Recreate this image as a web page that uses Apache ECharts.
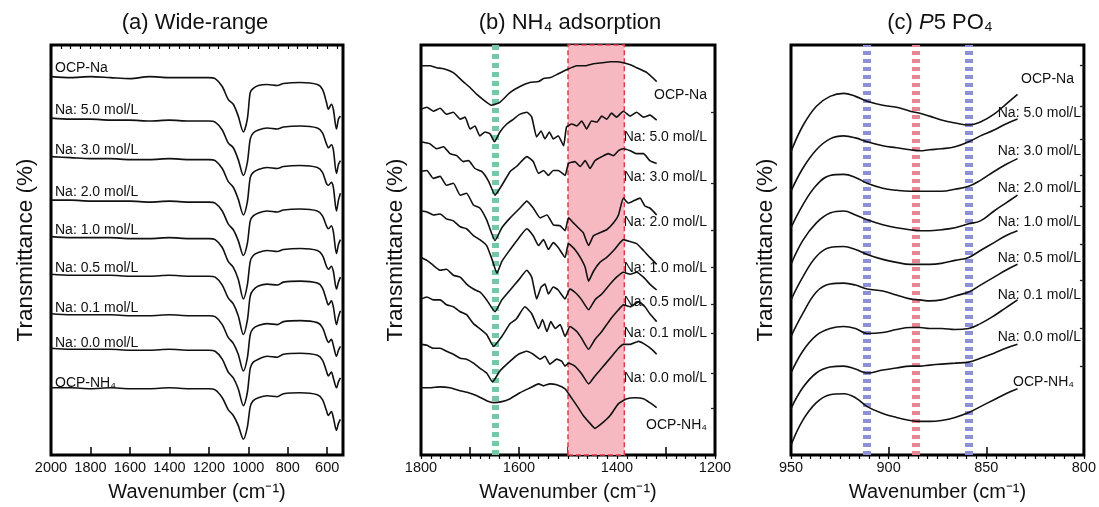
<!DOCTYPE html>
<html>
<head>
<meta charset="utf-8">
<script src="https://cdn.jsdelivr.net/npm/echarts@6/dist/echarts.min.js"></script>
<style>
  html, body { margin: 0; padding: 0; background: #fff; }
  #chart { width: 1099px; height: 507px; }
</style>
</head>
<body>
<div id="chart"></div>
<script>
// sample names, top to bottom
const sampleNames = ["OCP-Na", "Na: 5.0 mol/L", "Na: 3.0 mol/L", "Na: 2.0 mol/L", "Na: 1.0 mol/L",
  "Na: 0.5 mol/L", "Na: 0.1 mol/L", "Na: 0.0 mol/L", "OCP-NH₄"];

// (a) wide range, offset transmittance
const wnA = [2000, 1900, 1800, 1700, 1600, 1500, 1400, 1300, 1200, 1168, 1132, 1102, 1076, 1051, 1025, 1005,
  990, 975, 949, 904, 853, 822, 736, 650, 624, 604, 594, 579, 569, 553, 543, 533];
const aOcpNa = [383, 382, 383, 382, 381, 383, 382, 382, 382, 381, 373, 360, 355, 343, 327, 340, 367, 371, 374, 375, 374, 376, 377, 375, 370, 357, 350, 355, 350, 330, 340, 343];
const a50 = [341, 340, 340, 339, 339, 338, 339, 338, 338, 337, 329, 316, 311, 299, 283, 296, 320, 326, 329, 331, 330, 332, 333, 331, 326, 315, 311, 314, 309, 285, 294, 298];
const a30 = [302, 301, 300, 300, 299, 299, 300, 299, 299, 298, 290, 277, 271, 259, 243, 256, 281, 286, 289, 291, 290, 292, 293, 291, 286, 275, 273, 276, 271, 247, 258, 265];
const a20 = [258, 258, 257, 257, 257, 256, 257, 256, 256, 255, 247, 234, 228, 217, 202, 214, 237, 242, 245, 247, 246, 248, 249, 247, 242, 232, 229, 232, 226, 204, 213, 218];
const a10 = [221, 220, 220, 220, 219, 219, 220, 219, 219, 218, 210, 196, 190, 178, 158, 172, 196, 202, 205, 207, 206, 208, 209, 207, 202, 191, 188, 191, 186, 168, 175, 180];
const a05 = [183, 182, 182, 182, 181, 181, 182, 181, 181, 180, 172, 159, 153, 141, 122, 136, 161, 167, 171, 173, 172, 175, 176, 174, 169, 157, 152, 156, 150, 132, 140, 146];
const a01 = [143, 142, 142, 142, 141, 141, 142, 141, 141, 140, 132, 119, 113, 102, 85, 98, 122, 128, 131, 133, 132, 135, 136, 134, 129, 118, 114, 117, 111, 100, 106, 110];
const a00 = [108, 107, 107, 107, 106, 106, 107, 106, 106, 105, 97, 84, 78, 67, 50, 63, 88, 94, 97, 100, 99, 102, 103, 101, 96, 85, 80, 84, 78, 68, 74, 78];
const aNH4 = [68, 68, 67, 68, 67, 67, 68, 67, 67, 66, 58, 46, 40, 30, 16, 28, 49, 55, 58, 60, 59, 62, 63, 61, 56, 45, 40, 44, 38, 25, 32, 36];

// (b) NH4 region, [wavenumber, value]
const bOcpNa = [[1800, 394], [1782, 394], [1768, 392], [1754, 391], [1734, 387], [1714, 378], [1700, 372], [1686, 365], [1666, 357], [1656, 354], [1639, 357], [1618, 367], [1598, 373], [1578, 377], [1560, 378], [1550, 381], [1536, 382], [1523, 385], [1503, 390], [1482, 394], [1465, 394], [1448, 396], [1430, 397], [1414, 398], [1400, 398], [1387, 397], [1373, 395], [1360, 392], [1339, 387], [1319, 378]];
const b50 = [[1800, 350], [1788, 352], [1775, 348], [1761, 351], [1748, 345], [1734, 347], [1720, 340], [1710, 342], [1700, 330], [1690, 333], [1680, 323], [1669, 327], [1659, 325], [1650, 317], [1639, 327], [1625, 335], [1611, 340], [1598, 345], [1584, 347], [1574, 342], [1564, 322], [1555, 328], [1547, 320], [1538, 327], [1530, 320], [1520, 323], [1509, 313], [1503, 332], [1492, 335], [1482, 333], [1472, 338], [1462, 330], [1452, 338], [1441, 337], [1431, 343], [1421, 340], [1411, 346], [1401, 342], [1387, 348], [1373, 343], [1360, 347], [1346, 342], [1333, 344], [1319, 339]];
const b30 = [[1800, 317], [1782, 315], [1768, 310], [1754, 312], [1741, 305], [1727, 303], [1714, 297], [1703, 298], [1690, 290], [1676, 287], [1662, 277], [1649, 263], [1635, 273], [1618, 287], [1605, 292], [1584, 302], [1571, 297], [1560, 285], [1550, 288], [1540, 283], [1530, 288], [1520, 288], [1506, 283], [1499, 295], [1486, 297], [1475, 292], [1465, 298], [1455, 290], [1445, 298], [1431, 302], [1418, 305], [1407, 303], [1397, 308], [1387, 310], [1373, 308], [1360, 305], [1346, 305], [1333, 298], [1319, 295]];
const b20 = [[1800, 287], [1788, 288], [1775, 280], [1761, 282], [1748, 273], [1734, 275], [1720, 263], [1707, 265], [1693, 253], [1680, 250], [1666, 238], [1649, 217], [1635, 230], [1618, 240], [1598, 250], [1584, 257], [1571, 250], [1557, 240], [1543, 243], [1530, 233], [1516, 232], [1506, 227], [1499, 240], [1489, 235], [1479, 230], [1469, 225], [1458, 212], [1448, 222], [1435, 225], [1421, 228], [1407, 235], [1397, 243], [1387, 260], [1377, 255], [1367, 257], [1353, 260], [1343, 252], [1333, 250], [1319, 243]];
const b10 = [[1800, 247], [1788, 246], [1775, 243], [1761, 244], [1748, 239], [1734, 237], [1720, 231], [1707, 229], [1693, 222], [1680, 218], [1666, 212], [1655, 198], [1645, 184], [1635, 196], [1618, 208], [1600, 220], [1584, 229], [1571, 222], [1560, 212], [1550, 218], [1540, 208], [1530, 215], [1520, 210], [1506, 200], [1499, 214], [1486, 208], [1475, 200], [1465, 190], [1458, 176], [1448, 186], [1435, 195], [1421, 200], [1407, 207], [1397, 213], [1387, 218], [1373, 216], [1360, 214], [1346, 207], [1333, 200], [1319, 193]];
const b05 = [[1800, 200], [1788, 197], [1775, 192], [1761, 187], [1748, 188], [1734, 182], [1720, 180], [1707, 173], [1693, 168], [1680, 165], [1666, 157], [1649, 145], [1635, 157], [1618, 167], [1601, 177], [1584, 187], [1574, 180], [1564, 158], [1555, 170], [1547, 173], [1540, 163], [1530, 170], [1520, 167], [1506, 158], [1496, 168], [1482, 163], [1472, 157], [1458, 147], [1445, 157], [1431, 163], [1414, 173], [1401, 180], [1387, 185], [1373, 183], [1360, 185], [1346, 180], [1333, 173], [1319, 167]];
const b01 = [[1800, 158], [1788, 160], [1775, 157], [1761, 157], [1748, 152], [1734, 150], [1720, 145], [1707, 142], [1693, 133], [1680, 128], [1666, 122], [1652, 110], [1635, 120], [1618, 133], [1605, 138], [1588, 150], [1574, 143], [1560, 128], [1552, 137], [1543, 125], [1535, 135], [1526, 128], [1516, 132], [1506, 120], [1496, 130], [1482, 125], [1472, 118], [1458, 107], [1445, 117], [1431, 125], [1414, 137], [1397, 147], [1387, 152], [1373, 150], [1356, 155], [1343, 150], [1333, 143], [1319, 135]];
const b00 = [[1800, 112], [1788, 111], [1775, 108], [1761, 108], [1748, 105], [1734, 102], [1720, 98], [1707, 97], [1693, 93], [1680, 88], [1666, 83], [1654, 74], [1639, 85], [1618, 95], [1601, 102], [1584, 105], [1571, 102], [1557, 97], [1547, 100], [1537, 92], [1523, 97], [1513, 95], [1506, 90], [1499, 93], [1486, 90], [1472, 82], [1458, 72], [1445, 80], [1431, 88], [1414, 98], [1397, 108], [1387, 112], [1373, 112], [1356, 115], [1343, 112], [1329, 107], [1319, 102]];
const bNH4 = [[1800, 68], [1782, 68], [1761, 69], [1741, 68], [1720, 65], [1703, 63], [1686, 60], [1666, 55], [1652, 53], [1635, 54], [1618, 57], [1598, 63], [1577, 68], [1560, 72], [1550, 70], [1537, 72], [1523, 71], [1506, 67], [1496, 60], [1482, 50], [1469, 40], [1455, 32], [1445, 27], [1431, 32], [1414, 40], [1397, 52], [1380, 57], [1363, 58], [1346, 57], [1333, 53], [1319, 48]];

// (c) P5 PO4 region
const wnC = [950, 944, 937, 930, 923, 917, 911, 903, 896, 889, 884, 879, 873, 866, 859, 853, 846, 840, 834];
const cOcpNa = [307, 333, 353, 363, 366, 363, 358, 354, 352, 348, 346, 343, 339, 336, 334, 337, 345, 355, 365];
const c50 = [267, 290, 309, 320, 323, 321, 317, 313, 311, 309, 308, 309, 310, 312, 317, 323, 329, 335, 340];
const c30 = [230, 253, 273, 283, 284, 281, 275, 270, 268, 267, 267, 267, 267, 269, 272, 278, 287, 294, 300];
const c20 = [193, 217, 235, 245, 247, 243, 238, 233, 230, 228, 227, 227, 228, 230, 234, 237, 247, 255, 263];
const c10 = [157, 180, 201, 210, 211, 208, 203, 198, 195, 193, 193, 193, 194, 197, 200, 207, 215, 222, 227];
const c05 = [120, 143, 165, 173, 174, 172, 168, 166, 162, 158, 157, 156, 157, 161, 165, 172, 180, 187, 193];
const c01 = [83, 105, 121, 128, 130, 128, 123, 124, 127, 129, 129, 128, 128, 127, 128, 133, 141, 149, 157];
const c00 = [47, 68, 83, 89, 90, 87, 83, 86, 88, 90, 90, 91, 92, 93, 94, 98, 103, 108, 112];
const cNH4 = [10, 35, 53, 61, 62, 58, 49, 42, 38, 35, 34, 34, 35, 38, 43, 49, 56, 62, 67];

// reference bands / lines
const nh4Band = [1500, 1385];
const nh4Line = 1648;
const poLinesBlue = [911, 859];
const poLineRed = 886;

// axis tick labels
const ticksA = [600, 800, 1000, 1200, 1400, 1600, 1800, 2000];
const ticksB = [1200, 1400, 1600, 1800];
const ticksC = [800, 850, 900, 950];
// small offset marks on the right frame of (b) and (c)
const rightMarksB = [347, 275, 227, 190, 153, 123, 83, 47];
const rightMarksC = [395, 353, 320, 283, 252, 213, 177, 128, 90];

const FONT = "Liberation Sans, Arial, Helvetica, sans-serif";
const INK = "#111";

const curvesA = [aOcpNa, a50, a30, a20, a10, a05, a01, a00, aNH4];
const curvesB = [bOcpNa, b50, b30, b20, b10, b05, b01, b00, bNH4];
const curvesC = [cOcpNa, c50, c30, c20, c10, c05, c01, c00, cNH4];

function steps(from, to, step) {
  const out = [];
  for (let v = from; v <= to; v += step) out.push(v);
  return out;
}

const panels = [
  { left: 51, width: 292, min: 520, max: 2000, major: ticksA, minor: steps(550, 2000, 50), labels: ticksA, marks: [] },
  { left: 421, width: 294, min: 1200, max: 1800, major: steps(1200, 1800, 100), minor: steps(1200, 1800, 20), labels: ticksB, marks: rightMarksB },
  { left: 791, width: 295, min: 800, max: 950, major: ticksC, minor: steps(800, 950, 5), labels: ticksC, marks: rightMarksC },
];

const grid = [], xAxis = [], yAxis = [];
panels.forEach((p, i) => {
  grid.push({ left: p.left, top: 45, width: p.width, height: 415, show: true, borderColor: "#000", borderWidth: 3 });
  xAxis.push({
    gridIndex: i, type: "value", inverse: true, min: p.min, max: p.max,
    axisLine: { show: false },
    axisTick: { show: true, inside: true, length: 8, customValues: p.major, lineStyle: { color: "#000", width: 1.5 } },
    axisLabel: { show: true, customValues: p.labels, formatter: (v) => String(v), margin: 5, fontSize: 14.5, color: INK, fontFamily: FONT },
    splitLine: { show: false },
    name: "Wavenumber (cm⁻¹)", nameLocation: "middle", nameGap: 27,
    nameTextStyle: { fontSize: 20, color: INK, fontFamily: FONT },
  });
  xAxis.push({
    gridIndex: i, type: "value", inverse: true, min: p.min, max: p.max,
    axisLine: { show: false },
    axisTick: { show: true, inside: true, length: 4, customValues: p.minor, lineStyle: { color: "#000", width: 1.2 } },
    axisLabel: { show: false }, splitLine: { show: false },
  });
  yAxis.push({
    gridIndex: i, type: "value", min: 0, max: 415,
    axisLine: { show: false }, axisTick: { show: false }, axisLabel: { show: false }, splitLine: { show: false },
    name: "Transmittance (%)", nameLocation: "middle", nameGap: 14,
    nameTextStyle: { fontSize: 22.5, color: INK, fontFamily: FONT },
  });
});
// right-frame marks
panels.forEach((p, i) => {
  if (!p.marks.length) return;
  yAxis.push({
    gridIndex: i, type: "value", min: 0, max: 415, position: "right",
    axisLine: { show: false },
    axisTick: { show: true, inside: true, length: 4, customValues: p.marks, lineStyle: { color: "#222", width: 1.3 } },
    axisLabel: { show: false }, splitLine: { show: false },
  });
});

const lineBase = { type: "line", showSymbol: false, symbol: "none", z: 5, lineStyle: { color: INK, width: 1.6 } };

const series = [];
curvesA.forEach((vals, k) => {
  series.push({ ...lineBase, name: "a-" + sampleNames[k], xAxisIndex: 0, yAxisIndex: 0, smooth: 0.3,
    data: wnA.map((w, i) => [w, vals[i]]) });
});
curvesB.forEach((pts, k) => {
  series.push({ ...lineBase, name: "b-" + sampleNames[k], xAxisIndex: 2, yAxisIndex: 1, smooth: 0.15, data: pts });
});
curvesC.forEach((vals, k) => {
  series.push({ ...lineBase, name: "c-" + sampleNames[k], xAxisIndex: 4, yAxisIndex: 2, smooth: 0.4,
    data: wnC.map((w, i) => [w, vals[i]]) });
});

// highlight band + dashed guides
series.push({
  type: "line", xAxisIndex: 2, yAxisIndex: 1, data: [], z: 1, silent: true,
  markArea: {
    silent: true,
    itemStyle: { color: "#f6b9c2", borderColor: "#e43a4a", borderWidth: 1.5, borderType: [5, 3] },
    data: [[{ xAxis: nh4Band[0] }, { xAxis: nh4Band[1] }]],
  },
  markLine: {
    silent: true, symbol: ["none", "none"], label: { show: false },
    lineStyle: { color: "#72c9a3", width: 7, type: [5, 4] },
    data: [{ xAxis: nh4Line }],
  },
});
series.push({
  type: "line", xAxisIndex: 4, yAxisIndex: 2, data: [], z: 2, silent: true,
  markLine: {
    silent: true, symbol: ["none", "none"], label: { show: false },
    lineStyle: { width: 8, type: [4, 4] },
    data: [
      { xAxis: poLinesBlue[0], lineStyle: { color: "#8d90d6" } },
      { xAxis: poLineRed, lineStyle: { color: "#ea8592" } },
      { xAxis: poLinesBlue[1], lineStyle: { color: "#8d90d6" } },
    ],
  },
});

// text: titles and sample labels
const graphic = [];
function txt(x, y, text, size, align, rich) {
  graphic.push({ type: "text", x: x, y: y, silent: true,
    style: { text: text, fontSize: size, fontFamily: FONT, fill: INK, align: align, verticalAlign: "middle", rich: rich || {} } });
}
txt(195, 23, "(a) Wide-range", 22, "center");
txt(570, 23, "(b) NH₄ adsorption", 22, "center");
txt(940, 23, "(c) {i|P}5 PO₄", 22, "center", { i: { fontStyle: "italic", fontSize: 22, fontFamily: FONT, fill: INK } });

const labelYA = [68, 110, 150, 192, 230, 268, 308, 343, 383];
const labelYB = [95, 137, 177, 222, 268, 302, 333, 378, 425];
const labelYC = [79, 113, 151, 188, 222, 258, 295, 337, 382];
sampleNames.forEach((n, k) => {
  txt(55, labelYA[k], n, 14, "left");
  txt(707, labelYB[k], n, 14, "right");
  txt(n.startsWith("OCP") ? 1074 : 1081, labelYC[k], n, 14, "right");
});

const chart = echarts.init(document.getElementById("chart"), null, { renderer: "canvas" });
chart.setOption({
  animation: false,
  backgroundColor: "#fff",
  textStyle: { fontFamily: FONT },
  grid: grid,
  xAxis: xAxis,
  yAxis: yAxis,
  series: series,
  graphic: graphic,
});
</script>
</body>
</html>
